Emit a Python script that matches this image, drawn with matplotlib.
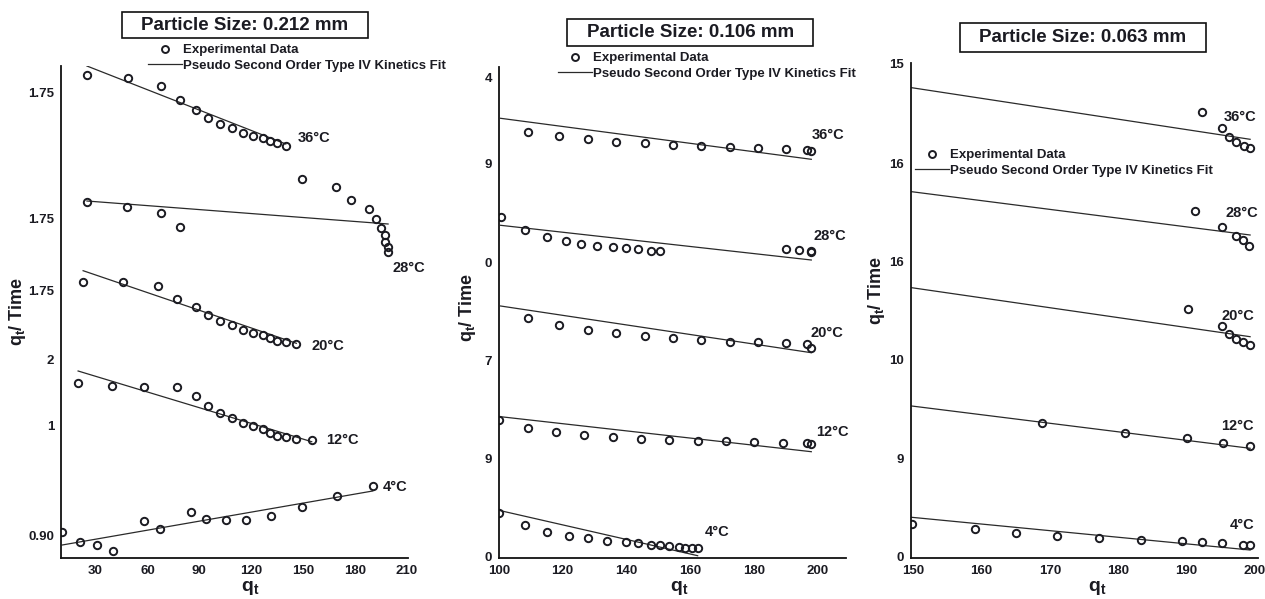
import matplotlib.pyplot as plt
from matplotlib.lines import Line2D
from matplotlib.patches import Rectangle

plt.rcParams['font.family'] = ['Liberation Sans', 'DejaVu Sans']
plt.rcParams['font.weight'] = 'bold'
plt.rcParams['axes.labelweight'] = 'bold'
plt.rcParams['mathtext.fontset'] = 'custom'
plt.rcParams['mathtext.rm'] = 'Liberation Sans:bold'
plt.rcParams['mathtext.it'] = 'Liberation Sans:bold'
plt.rcParams['mathtext.bf'] = 'Liberation Sans:bold'
plt.rcParams['mathtext.default'] = 'rm'

temps = ['36°C', '28°C', '20°C', '12°C', '4°C']

# ---- particle size 0.212 mm (y values are the stacked/offset display units) ----
qt_212 = {
    '36°C': [25.0, 48.7, 67.8, 78.8, 88.1, 95.0, 102.0, 108.9, 115.3, 121.1, 126.8, 130.9, 134.9, 140.1],
    '28°C': [25.0, 48.1, 67.8, 78.8, 149.5, 169.1, 177.8, 188.3, 192.3, 195.2, 197.5, 197.5, 199.3, 199.3],
    '20°C': [22.8, 46.0, 66.2, 77.1, 88.1, 95.2, 101.8, 109.1, 115.3, 121.3, 127.0, 130.9, 134.8, 140.0, 146.2],
    '12°C': [19.9, 39.3, 58.0, 77.2, 88.1, 95.2, 102.0, 109.1, 115.1, 121.3, 127.0, 130.9, 135.2, 140.0, 146.2, 155.1],
    '4°C': [10.7, 20.9, 30.9, 40.2, 58.0, 67.1, 85.0, 94.0, 105.3, 117.0, 131.3, 149.3, 169.5, 190.4],
}
y_212 = {
    '36°C': [482.7, 479.7, 471.7, 457.7, 447.7, 439.7, 433.7, 429.7, 424.7, 421.7, 419.7, 416.7, 414.7, 411.7],
    '28°C': [355.7, 350.7, 344.7, 330.7, 378.7, 370.7, 357.7, 348.7, 338.7, 329.7, 322.7, 315.7, 310.7, 305.7],
    '20°C': [276.0, 276.0, 271.7, 258.7, 251.0, 242.7, 236.7, 232.4, 228.2, 225.2, 222.5, 219.7, 217.0, 215.5, 214.2],
    '12°C': [174.4, 171.7, 170.7, 170.7, 161.4, 151.7, 145.0, 140.0, 135.0, 131.7, 128.4, 125.0, 122.0, 120.4, 118.4, 118.0],
    '4°C': [25.4, 16.0, 13.0, 7.0, 36.4, 28.4, 46.0, 38.7, 37.4, 38.0, 41.7, 51.0, 61.7, 72.0],
}
fitx_212 = {'36°C': [25.0, 140.1], '28°C': [25.0, 199.3], '20°C': [22.8, 146.2],
            '12°C': [19.9, 155.1], '4°C': [10.7, 190.4]}
fity_212 = {'36°C': [491.7, 413.7], '28°C': [356.7, 333.7], '20°C': [287.0, 214.4],
            '12°C': [186.7, 116.0], '4°C': [12.7, 66.7]}
ytick_212 = [465.7, 339.7, 267.7, 198.7, 132.7, 22.7]
ylab_212 = ['1.75', '1.75', '1.75', '2', '1', '0.90']
xtick_212 = [30, 60, 90, 120, 150, 180, 210]

# ---- particle size 0.106 mm ----
qt_106 = {
    '36°C': [109.1, 119.0, 127.8, 136.8, 145.8, 154.7, 163.5, 172.5, 181.4, 190.3, 196.9, 198.1],
    '28°C': [100.5, 108.1, 115.0, 120.9, 125.9, 130.8, 135.7, 139.8, 143.7, 147.7, 150.6, 190.2, 194.2, 197.9, 198.1],
    '20°C': [109.1, 119.0, 127.8, 136.8, 145.8, 154.7, 163.5, 172.5, 181.4, 190.3, 196.9, 198.1],
    '12°C': [100.0, 109.1, 117.9, 126.8, 135.7, 144.6, 153.5, 162.4, 171.3, 180.2, 189.1, 196.9, 198.1],
    '4°C': [100.0, 108.1, 115.0, 121.9, 127.9, 133.8, 139.8, 143.7, 147.7, 150.6, 153.5, 156.6, 158.3, 160.5, 162.4],
}
y_106 = {
    '36°C': [425.7, 421.7, 418.4, 416.0, 414.4, 412.7, 411.4, 410.4, 409.7, 409.0, 407.7, 406.4],
    '28°C': [340.4, 327.7, 321.0, 317.0, 313.7, 311.7, 310.4, 309.4, 308.4, 307.0, 306.7, 308.4, 307.7, 307.0, 305.7],
    '20°C': [240.0, 233.0, 227.7, 224.4, 221.7, 219.4, 217.7, 216.0, 215.4, 214.4, 213.7, 209.7],
    '12°C': [137.7, 130.0, 125.7, 122.7, 120.7, 119.0, 117.7, 116.7, 116.4, 115.7, 115.0, 114.4, 113.4],
    '4°C': [45.0, 32.7, 26.0, 22.0, 19.4, 17.0, 15.7, 14.4, 13.0, 12.4, 11.4, 10.4, 10.0, 9.7, 9.4],
}
fitx_106 = {t: [100.5, 198.1] for t in temps}
fitx_106['4°C'] = [100.5, 162.4]
fity_106 = {'36°C': [439.4, 398.4], '28°C': [332.4, 297.7], '20°C': [251.7, 205.0],
            '12°C': [141.0, 106.0], '4°C': [47.0, 2.0]}
ytick_106 = [480.4, 394.4, 295.4, 197.7, 99.4, 1.0]
ylab_106 = ['4', '9', '0', '7', '9', '0']
xtick_106 = [100, 120, 140, 160, 180, 200]

# ---- particle size 0.063 mm ----
qt_063 = {
    '36°C': [192.2, 195.2, 196.2, 197.3, 198.4, 199.3],
    '28°C': [191.2, 195.2, 197.2, 198.2, 199.2],
    '20°C': [190.2, 195.2, 196.2, 197.3, 198.3, 199.3],
    '12°C': [168.9, 181.0, 190.1, 195.3, 199.3],
    '4°C': [149.8, 159.0, 165.0, 171.1, 177.2, 183.3, 189.4, 192.2, 195.2, 198.3, 199.3],
}
y_063 = {
    '36°C': [446.0, 429.4, 421.0, 416.0, 412.0, 409.4],
    '28°C': [347.0, 330.4, 321.7, 317.7, 311.7],
    '20°C': [248.4, 232.0, 223.4, 219.0, 215.7, 212.4],
    '12°C': [134.4, 125.0, 119.4, 114.7, 111.4],
    '4°C': [33.7, 28.4, 24.4, 21.7, 19.7, 18.0, 16.7, 15.4, 14.4, 13.0, 12.4],
}
fitx_063 = {t: [149.8, 199.3] for t in temps}
fity_063 = {'36°C': [470.0, 418.4], '28°C': [366.0, 322.7], '20°C': [270.0, 221.0],
            '12°C': [151.7, 109.4], '4°C': [40.4, 7.7]}
ytick_063 = [494.4, 394.4, 296.0, 197.7, 99.4, 1.0]
ylab_063 = ['15', '16', '16', '10', '9', '0']
xtick_063 = [150, 160, 170, 180, 190, 200]

titles = ['Particle Size: 0.212 mm', 'Particle Size: 0.106 mm', 'Particle Size: 0.063 mm']

W, H = 1265, 599
fig = plt.figure(figsize=(W / 100, H / 100), dpi=100)
ink = '#1b1b22'


def add_ax(left, top, right, bottom):
    return fig.add_axes([left / W, 1 - bottom / H, (right - left) / W, (bottom - top) / H])


panels = [
    dict(box=(61, 66, 408.3, 557.7), xlim=(10, 211), ylim=(0, 491.7),
         qt=qt_212, y=y_212, fx=fitx_212, fy=fity_212, yt=ytick_212, yl=ylab_212, xt=xtick_212,
         lab={'36°C': (147, 419.4), '28°C': (202, 289.7), '20°C': (155, 211.7),
              '12°C': (163.4, 118), '4°C': (196.2, 71)},
         title=(122, 11.7, 368, 38.3), leg=(148, 44), ylc=(-0.095, 0.50), xlc=(0.544, -0.043)),
    dict(box=(499, 66.5, 846, 557.7), xlim=(100, 209), ylim=(0, 491.2),
         qt=qt_106, y=y_106, fx=fitx_106, fy=fity_106, yt=ytick_106, yl=ylab_106, xt=xtick_106,
         lab={'36°C': (198.1, 422.7), '28°C': (198.8, 321.7), '20°C': (197.7, 225),
              '12°C': (199.5, 126), '4°C': (164.6, 25.4)},
         title=(567.3, 19, 813.3, 46), leg=(558.3, 52), ylc=(-0.060, 0.51), xlc=(0.52, -0.043)),
    dict(box=(911, 63.2, 1258.3, 557.7), xlim=(149.7, 200.5), ylim=(0, 494.5),
         qt=qt_063, y=y_063, fx=fitx_063, fy=fity_063, yt=ytick_063, yl=ylab_063, xt=xtick_063,
         lab={'36°C': (195.5, 440.4), '28°C': (195.7, 344.4), '20°C': (195.1, 241.7),
              '12°C': (195.1, 131.7), '4°C': (196.3, 32.7)},
         title=(960, 22.7, 1206, 51.7), leg=(915, 149), ylc=(-0.069, 0.54), xlc=(0.535, -0.043)),
]

for p, title in zip(panels, titles):
    ax = add_ax(*p['box'])
    for t in temps:
        ax.plot(p['fx'][t], p['fy'][t], color='#2a2a2a', lw=0.9)
        ax.plot(p['qt'][t], p['y'][t], 'o', mfc='none', mec=ink, ms=5.3, mew=1.4)
        lx, ly = p['lab'][t]
        ax.text(lx, ly, t, ha='left', va='center', fontsize=10.5, color=ink, clip_on=False)
    ax.set_xlim(*p['xlim'])
    ax.set_ylim(*p['ylim'])
    ax.set_xticks(p['xt'])
    ax.set_yticks(p['yt'])
    ax.set_yticklabels(p['yl'])
    ax.tick_params(length=0, labelsize=9.5, colors=ink, pad=5)
    for s in ('top', 'right'):
        ax.spines[s].set_visible(False)
    for s in ('left', 'bottom'):
        ax.spines[s].set_linewidth(1.3)
        ax.spines[s].set_color('#111111')
    ax.set_ylabel(r'$q_t$/ Time', fontsize=13, color=ink)
    ax.yaxis.set_label_coords(*p['ylc'])
    ax.set_xlabel(r'$q_t$', fontsize=14, color=ink)
    ax.xaxis.set_label_coords(*p['xlc'])

    # title box
    l, t0, r, b = p['title']
    fig.patches.append(Rectangle((l / W, 1 - b / H), (r - l) / W, (b - t0) / H,
                                 transform=fig.transFigure, fill=False, ec='#111111', lw=1.2))
    fig.text((l + r) / 2 / W, 1 - (t0 + b) / 2 / H, title, ha='center', va='center',
             fontsize=13.5, color=ink)

    handles = [Line2D([], [], ls='none', marker='o', mfc='none', mec=ink, ms=5, mew=1.4),
               Line2D([], [], color='#2a2a2a', lw=0.9)]
    lg = ax.legend(handles, ['Experimental Data', 'Pseudo Second Order Type IV Kinetics Fit'],
                   loc='upper left', bbox_to_anchor=(p['leg'][0] / W, 1 - p['leg'][1] / H),
                   bbox_transform=fig.transFigure, frameon=False, fontsize=9.5,
                   handlelength=2.55, handletextpad=0.1, labelspacing=0.25,
                   borderpad=0, borderaxespad=0)
    for txt in lg.get_texts():
        txt.set_color(ink)

fig.savefig('out.png', dpi=100)
